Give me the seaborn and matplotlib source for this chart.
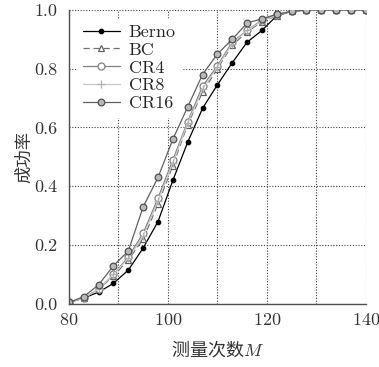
import numpy as np
import pandas as pd
import seaborn as sns
import matplotlib.pyplot as plt

# %% Data

lst_m = list(range(80, 141, 3))

lst_berno = [0.005, 0.02, 0.04, 0.07, 0.115, 0.19, 0.28, 0.42, 0.55, 0.665,
             0.745, 0.82, 0.89, 0.93, 0.98, 0.995, 1.0, 1.0, 1.0, 1.0, 1.0]
lst_bc = [0.005, 0.02, 0.05, 0.095, 0.15, 0.22, 0.34, 0.47, 0.61, 0.72,
          0.80, 0.88, 0.925, 0.96, 0.98, 0.995, 1.0, 1.0, 1.0, 1.0, 1.0]
lst_cr4 = [0.005, 0.02, 0.05, 0.10, 0.16, 0.24, 0.36, 0.49, 0.62, 0.74,
           0.81, 0.89, 0.93, 0.965, 0.985, 0.995, 1.0, 1.0, 1.0, 1.0, 1.0]
lst_cr8 = [0.005, 0.02, 0.05, 0.10, 0.155, 0.23, 0.35, 0.48, 0.615, 0.73,
           0.805, 0.885, 0.93, 0.962, 0.982, 0.995, 1.0, 1.0, 1.0, 1.0, 1.0]
lst_cr16 = [0.005, 0.025, 0.065, 0.13, 0.18, 0.33, 0.43, 0.56, 0.67, 0.78,
            0.85, 0.90, 0.955, 0.97, 0.985, 0.995, 1.0, 1.0, 1.0, 1.0, 1.0]

lst_names = ['Berno', 'BC', 'CR4', 'CR8', 'CR16']

df = pd.DataFrame({'M': lst_m, 'Berno': lst_berno, 'BC': lst_bc,
                   'CR4': lst_cr4, 'CR8': lst_cr8, 'CR16': lst_cr16})

# line styles per series
dct_style = {
    'Berno': dict(color='black', marker='o', markersize=3.2, mfc='black',
                  mec='black', linestyle='-'),
    'BC': dict(color='#707070', marker='^', markersize=5, mfc='white',
               mec='#606060', linestyle=(0, (5, 3))),
    'CR4': dict(color='#808080', marker='o', markersize=5, mfc='white',
                mec='#808080', linestyle='-'),
    'CR8': dict(color='#c8c8c8', marker='+', markersize=5.5, mfc='#c8c8c8',
                mec='#b0b0b0', linestyle='-'),
    'CR16': dict(color='#606060', marker='o', markersize=4.8, mfc='#b8b8b8',
                 mec='#505050', linestyle='-'),
}

# %% Plot

sns.set_style('white')
plt.rcParams['font.family'] = ['cmr10', 'Noto Sans CJK SC']
plt.rcParams['mathtext.fontset'] = 'cm'
plt.rcParams['axes.formatter.use_mathtext'] = True
plt.rcParams['font.size'] = 13

fig = plt.figure(figsize=(3.79, 3.67), dpi=100)
ax = fig.add_axes([0.182, 0.172, 0.783, 0.801])

for name in lst_names:
    st = dct_style[name]
    sns.lineplot(data=df, x='M', y=name, ax=ax, label=name,
                 color=st['color'], linewidth=0.9, marker=st['marker'],
                 markersize=st['markersize'], markerfacecolor=st['mfc'],
                 markeredgecolor=st['mec'], markeredgewidth=0.9,
                 linestyle=st['linestyle'])

ax.set_xlim(80, 140)
ax.set_ylim(0, 1.0)
ax.set_xticks([80, 100, 120, 140])
ax.set_xticks([90, 110, 130], minor=True)
ax.set_yticks([0.0, 0.2, 0.4, 0.6, 0.8, 1.0])
ax.set_yticklabels(['0.0', '0.2', '0.4', '0.6', '0.8', '1.0'])
ax.grid(True, which='both', linestyle=(0, (1, 1.5)), color='#404040',
        linewidth=0.8)
for side in ['top', 'right']:
    ax.spines[side].set_visible(False)
for side in ['left', 'bottom']:
    ax.spines[side].set_color('#505050')
    ax.spines[side].set_linewidth(1.0)
ax.tick_params(direction='in', length=3, colors='#505050', labelcolor='#333333',
               labelsize=13, which='both')
ax.tick_params(axis='y', pad=8)
ax.tick_params(axis='x', pad=6)

ax.set_xlabel('测量次数$M$', fontsize=13, color='#333333',
              family='Noto Sans CJK SC', labelpad=8)
ax.set_ylabel('成功率', fontsize=12.5, color='#333333',
              family='Noto Sans CJK SC', labelpad=1)

ax.legend(loc='upper left', frameon=True, fancybox=False, edgecolor='white',
          facecolor='white', framealpha=1.0, handlelength=2.0,
          borderaxespad=0.5, borderpad=0.3, labelspacing=0.12, fontsize=13,
          handletextpad=0.5)

fig.savefig('out.png', dpi=100)
